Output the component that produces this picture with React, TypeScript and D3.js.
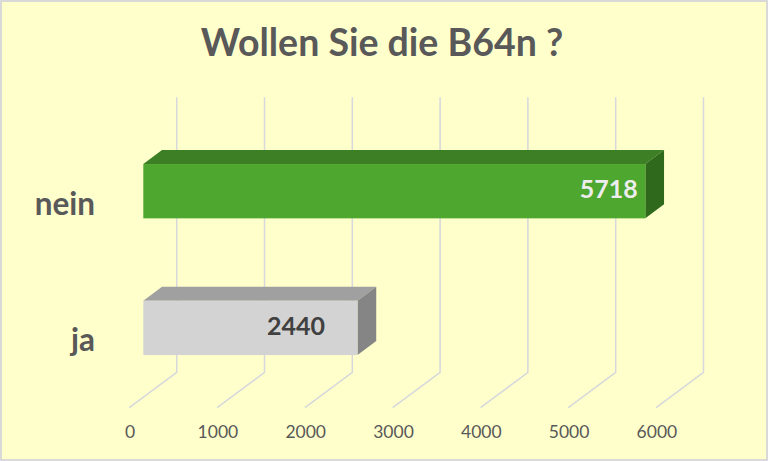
import React from "react";
import * as d3 from "d3";

const categories = ["nein", "ja"];
const values = [5718, 2440];
const tickValues = [0, 1000, 2000, 3000, 4000, 5000, 6000];
const title = "Wollen Sie die B64n ?";

const W = 768;
const H = 461;
const FONT = "Lato, 'Open Sans', sans-serif";

const frontColors = ["#4EA72E", "#D3D3D3"];
const topColors = ["#3C7F24", "#A0A0A0"];
const sideColors = ["#2F6A1C", "#858585"];
const labelColors = ["#EDEDED", "#404040"];

export default function App() {
  const xs = d3.scaleLinear().domain([0, 6000]).range([0, 526.8]);
  const yc = d3.scalePoint<string>().domain(categories).range([191.2, 327.9]);
  const barH = 54.3;

  // floor / wall geometry
  const floorFrontX = 129.3;
  const floorFrontY = 407.7;
  const depthDX = 47.4;
  const depthDY = -35.3;
  const wallTop = 97.3;
  const backX = floorFrontX + depthDX;
  const backY = floorFrontY + depthDY;

  // bar geometry
  const barX0 = 143.3;
  const barDX = 18.7;
  const barDY = -14;

  const grid = "#D6D8DC";
  const textGrey = "#595959";

  return (
    <svg
      width={W}
      height={H}
      style={{ position: "absolute", left: 0, top: 0, display: "block" }}
    >
      <rect x={1} y={1} width={W - 2} height={H - 2} fill="#FFFFCC" stroke="#D9D9D9" strokeWidth={2} />
      <text
        x={382}
        y={55.5}
        textAnchor="middle"
        fontFamily={FONT}
        fontWeight={700}
        fontSize={37.5}
        fill={textGrey}
      >
        {title}
      </text>

      {tickValues.map((t) => (
        <g key={t}>
          <polyline
            points={`${backX + xs(t)},${wallTop} ${backX + xs(t)},${backY} ${floorFrontX + xs(t)},${floorFrontY}`}
            fill="none"
            stroke={grid}
            strokeWidth={1.5}
          />
          <text
            x={floorFrontX + xs(t) + 0.8}
            y={437.5}
            textAnchor="middle"
            fontFamily={FONT}
            fontSize={17.5}
            fill={textGrey}
          >
            {t}
          </text>
        </g>
      ))}

      {categories.map((c, i) => {
        const cy = yc(c)!;
        const top = cy - barH / 2;
        const bot = cy + barH / 2;
        const x1 = barX0 + xs(values[i]);
        return (
          <g key={c}>
            <polygon
              points={`${barX0},${top} ${barX0 + barDX},${top + barDY} ${x1 + barDX},${top + barDY} ${x1},${top}`}
              fill={topColors[i]}
            />
            <polygon
              points={`${x1},${top} ${x1 + barDX},${top + barDY} ${x1 + barDX},${bot + barDY} ${x1},${bot}`}
              fill={sideColors[i]}
            />
            <rect x={barX0} y={top} width={x1 - barX0} height={barH} fill={frontColors[i]} />
            <text
              x={i === 0 ? x1 - 7.5 : x1 - 32.5}
              y={cy + 7}
              textAnchor="end"
              fontFamily={FONT}
              fontWeight={700}
              fontSize={25}
              fill={labelColors[i]}
            >
              {values[i]}
            </text>
            <text
              x={95}
              y={cy + 23.5}
              textAnchor="end"
              fontFamily={FONT}
              fontWeight={700}
              fontSize={31.5}
              fill={textGrey}
            >
              {c}
            </text>
          </g>
        );
      })}
    </svg>
  );
}
